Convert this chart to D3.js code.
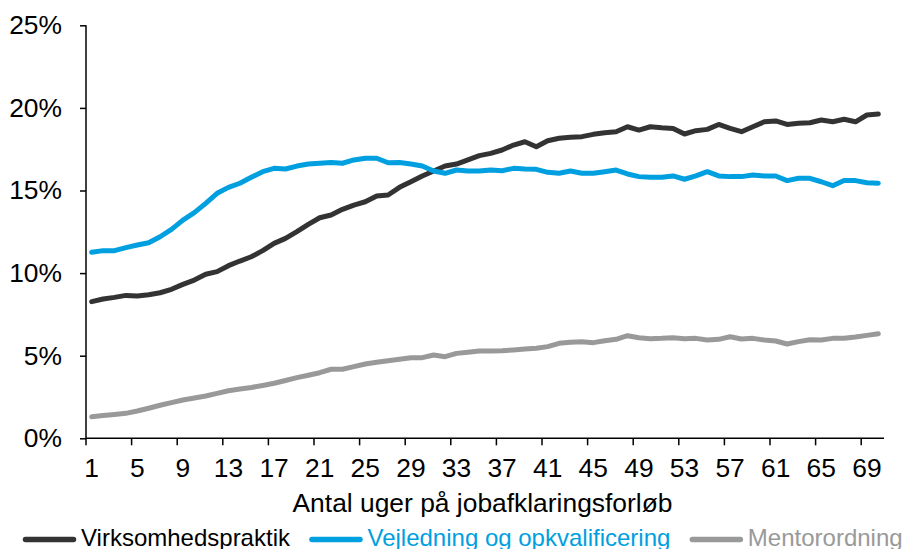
<!DOCTYPE html>
<html>
<head>
<meta charset="utf-8">
<script src="https://cdn.jsdelivr.net/npm/d3@7"></script>
<style>
  body { margin: 0; background: #fff; }
  text { font-family: "Liberation Sans", Arial, sans-serif; }
</style>
</head>
<body>
<div id="chart"></div>
<script>
// Data (andel i procent, uge 1-70)
var weeks = d3.range(1, 71);

var virksomhedspraktik = [
	8.27, 8.43, 8.53, 8.65, 8.61, 8.69, 8.81, 9.02, 9.32, 9.58,
	9.93, 10.09, 10.45, 10.73, 10.99, 11.36, 11.80, 12.10, 12.51, 12.95,
	13.35, 13.52, 13.86, 14.12, 14.32, 14.67, 14.73, 15.19, 15.53, 15.88,
	16.18, 16.48, 16.60, 16.85, 17.11, 17.25, 17.45, 17.75, 17.95, 17.65,
	18.01, 18.16, 18.22, 18.26, 18.40, 18.50, 18.56, 18.86, 18.66, 18.86,
	18.80, 18.76, 18.42, 18.62, 18.70, 19.00, 18.76, 18.56, 18.86, 19.16,
	19.21, 19.00, 19.07, 19.10, 19.27, 19.16, 19.31, 19.16, 19.57, 19.63
];

var vejledning = [
	11.26, 11.36, 11.36, 11.54, 11.70, 11.84, 12.20, 12.65, 13.21, 13.66,
	14.22, 14.83, 15.19, 15.44, 15.80, 16.14, 16.34, 16.30, 16.48, 16.60,
	16.65, 16.70, 16.65, 16.85, 16.95, 16.95, 16.68, 16.70, 16.60, 16.48,
	16.18, 16.04, 16.24, 16.18, 16.18, 16.24, 16.20, 16.34, 16.30, 16.28,
	16.10, 16.04, 16.18, 16.04, 16.04, 16.14, 16.24, 16.00, 15.84, 15.80,
	15.80, 15.88, 15.68, 15.88, 16.14, 15.88, 15.84, 15.84, 15.94, 15.88,
	15.88, 15.60, 15.74, 15.74, 15.53, 15.29, 15.60, 15.60, 15.47, 15.44
];

var mentorordning = [
	1.31, 1.38, 1.44, 1.51, 1.65, 1.82, 2.00, 2.16, 2.32, 2.44,
	2.56, 2.72, 2.88, 2.98, 3.08, 3.20, 3.33, 3.50, 3.67, 3.82,
	3.97, 4.18, 4.18, 4.34, 4.50, 4.60, 4.70, 4.79, 4.88, 4.88,
	5.04, 4.94, 5.14, 5.21, 5.28, 5.28, 5.30, 5.35, 5.40, 5.45,
	5.55, 5.75, 5.81, 5.85, 5.79, 5.91, 5.99, 6.21, 6.09, 6.03,
	6.05, 6.09, 6.03, 6.05, 5.95, 5.99, 6.15, 6.01, 6.05, 5.95,
	5.89, 5.71, 5.85, 5.97, 5.95, 6.05, 6.05, 6.13, 6.23, 6.33
];

var yTicks = [0, 5, 10, 15, 20, 25];
var xTickLabels = d3.range(1, 71, 4);

var series = [
	{name: 'Virksomhedspraktik', values: virksomhedspraktik, color: '#333333'},
	{name: 'Vejledning og opkvalificering', values: vejledning, color: '#009fe0'},
	{name: 'Mentorordning', values: mentorordning, color: '#999999'}
];

var width = 904, height = 549;
var fs = 26.4;

var svg = d3.select('#chart').append('svg')
	.attr('width', width)
	.attr('height', height);

var x = d3.scaleBand()
	.domain(weeks)
	.range([86, 884])
	.paddingInner(0).paddingOuter(0);

var y = d3.scaleLinear()
	.domain([0, 25])
	.range([438.3, 25.3]);

// Y axis
var yAxis = svg.append('g')
	.attr('transform', 'translate(86,0)')
	.call(d3.axisLeft(y).tickValues(yTicks).tickSize(6).tickPadding(18)
		.tickFormat(function(d){ return d + '%'; }));
yAxis.select('.domain').attr('stroke', '#000').attr('stroke-width', 1.5)
	.attr('d', 'M0,' + y(25) + 'V' + y(0));
yAxis.selectAll('.tick line').attr('stroke', '#000').attr('stroke-width', 1.5);
yAxis.selectAll('.tick text')
	.attr('font-size', fs).attr('fill', '#000')
	.style('font-family', '"Liberation Sans", Arial, sans-serif');

// X axis: tick marks between categories every 4 weeks, labels centred
var xg = svg.append('g')
	.attr('transform', 'translate(0,' + y(0) + ')');
xg.append('line')
	.attr('x1', x.range()[0]).attr('x2', x.range()[1])
	.attr('stroke', '#000').attr('stroke-width', 1.5);
xg.selectAll('.xtick')
	.data(xTickLabels)
	.enter().append('line')
	.attr('x1', function(d){ return x(d); })
	.attr('x2', function(d){ return x(d); })
	.attr('y1', 0).attr('y2', 7)
	.attr('stroke', '#000').attr('stroke-width', 1.5);
xg.selectAll('.xlabel')
	.data(xTickLabels)
	.enter().append('text')
	.attr('x', function(d){ return x(d) + x.bandwidth() / 2; })
	.attr('y', 39)
	.attr('text-anchor', 'middle')
	.attr('font-size', fs)
	.text(function(d){ return d; });

svg.append('text')
	.attr('x', 482.5).attr('y', 512)
	.attr('text-anchor', 'middle')
	.attr('font-size', fs)
	.text('Antal uger på jobafklaringsforløb');

// Lines
var line = d3.line()
	.x(function(d, i){ return x(weeks[i]) + x.bandwidth() / 2; })
	.y(function(d){ return y(d); });

svg.selectAll('.serie')
	.data(series)
	.enter().append('path')
	.attr('class', 'serie')
	.attr('d', function(s){ return line(s.values); })
	.attr('fill', 'none')
	.attr('stroke', function(s){ return s.color; })
	.attr('stroke-width', 5)
	.attr('stroke-linejoin', 'round')
	.attr('stroke-linecap', 'round');

// Legend, laid out left to right from the text widths
var lx = 25.5;
series.forEach(function(s, i){
	var g = svg.append('g').attr('transform', 'translate(' + lx + ',539.5)');
	g.append('line')
		.attr('x1', 0).attr('x2', 48)
		.attr('stroke', s.color)
		.attr('stroke-width', 5.5)
		.attr('stroke-linecap', 'round');
	var t = g.append('text')
		.attr('x', 55.5).attr('y', 6.5)
		.attr('font-size', 24)
		.attr('fill', i === 0 ? '#000' : s.color)
		.text(s.name);
	lx += 55.5 + t.node().getComputedTextLength() + 22;
});
</script>
</body>
</html>
